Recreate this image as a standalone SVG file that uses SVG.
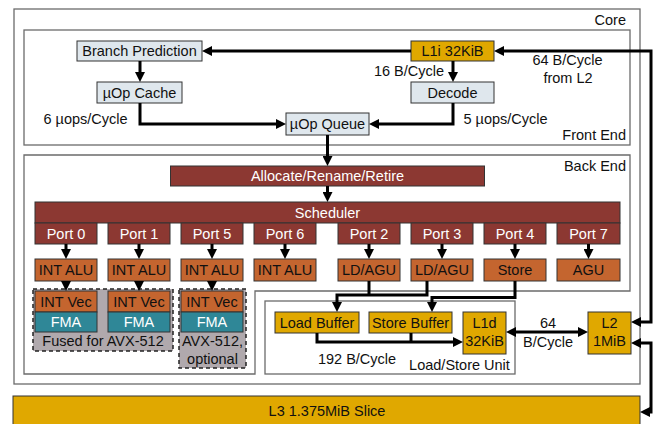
<svg xmlns="http://www.w3.org/2000/svg" width="655" height="424" viewBox="0 0 655 424">
<defs>
<marker id="ah" viewBox="0 0 10 10" refX="4" refY="5" markerWidth="10" markerHeight="10" markerUnits="userSpaceOnUse" orient="auto-start-reverse">
<path d="M0,0 L10,5 L0,10 z" fill="#000"/>
</marker>
<style>
text{font-family:"Liberation Sans",Arial,sans-serif;font-size:14.5px;fill:#111}
.c{text-anchor:middle}
.r{text-anchor:end}
.w{fill:#fff}
.region{fill:#fff;stroke:#6b6b6b;stroke-width:1.3}
.fe{fill:#dfe7ed;stroke:#333;stroke-width:1}
.gold{fill:#e0a800;stroke:#333;stroke-width:1}
.red{fill:#8c3832;stroke:#333;stroke-width:1}
.unit{fill:#c4652f;stroke:#333;stroke-width:1}
.fma{fill:#2f8797;stroke:#333;stroke-width:1}
.grp{fill:#b0a9ad;stroke:#222;stroke-width:1.5;stroke-dasharray:4 3}
.cn path{fill:none;stroke:#000;stroke-width:3}
.a{marker-end:url(#ah)}
.aa{marker-start:url(#ah);marker-end:url(#ah)}
</style>
</defs>

<g id="core"><rect class="region" x="14" y="9" width="626" height="375"/><text class="r" x="626" y="25">Core</text></g>
<g id="frontend"><rect class="region" x="24" y="30" width="606" height="115"/><text class="r" x="626" y="140">Front End</text></g>
<g id="backend"><path class="region" d="M24,155 H630 V291 H255 V374 H24 Z"/><text class="r" x="626" y="171">Back End</text></g>
<g id="lsu"><rect class="region" x="265" y="301" width="250" height="73"/><text class="c" x="459.5" y="370">Load/Store Unit</text></g>
<g id="l3"><rect class="gold" x="13" y="396" width="627" height="40"/><text class="c" x="327" y="416">L3 1.375MiB Slice</text></g>

<g id="branch"><rect class="fe" x="77" y="41" width="125" height="20"/><text class="c" x="139.5" y="56">Branch Prediction</text></g>
<g id="uopcache"><rect class="fe" x="97" y="82" width="85" height="21"/><text class="c" x="139.5" y="97.5">µOp Cache</text></g>
<g id="uopqueue"><rect class="fe" x="286" y="113" width="83" height="22"/><text class="c" x="327.5" y="129">µOp Queue</text></g>
<g id="l1i"><rect class="gold" x="411" y="41" width="83" height="20"/><text class="c" x="452.5" y="56">L1i 32KiB</text></g>
<g id="decode"><rect class="fe" x="411" y="82" width="83" height="21"/><text class="c" x="452.5" y="97.5">Decode</text></g>

<g id="allocate"><rect class="red" x="170.5" y="166" width="314" height="20"/><text class="c w" x="327.5" y="181">Allocate/Rename/Retire</text></g>
<g id="scheduler"><rect class="red" x="35" y="202" width="585" height="21"/><text class="c w" x="327.5" y="217.5">Scheduler</text></g>

<g id="port0"><rect class="red" x="35" y="223" width="62" height="21"/><text class="c w" x="66" y="238.5">Port 0</text></g>
<g id="port1"><rect class="red" x="108" y="223" width="62" height="21"/><text class="c w" x="139" y="238.5">Port 1</text></g>
<g id="port5"><rect class="red" x="181" y="223" width="62" height="21"/><text class="c w" x="212" y="238.5">Port 5</text></g>
<g id="port6"><rect class="red" x="254" y="223" width="62" height="21"/><text class="c w" x="285" y="238.5">Port 6</text></g>
<g id="port2"><rect class="red" x="338" y="223" width="62" height="21"/><text class="c w" x="369" y="238.5">Port 2</text></g>
<g id="port3"><rect class="red" x="411" y="223" width="62" height="21"/><text class="c w" x="442" y="238.5">Port 3</text></g>
<g id="port4"><rect class="red" x="484" y="223" width="62" height="21"/><text class="c w" x="515" y="238.5">Port 4</text></g>
<g id="port7"><rect class="red" x="557" y="223" width="63" height="21"/><text class="c w" x="588.5" y="238.5">Port 7</text></g>

<g id="alu0"><rect class="unit" x="35" y="259" width="62" height="22"/><text class="c" x="66" y="275">INT ALU</text></g>
<g id="alu1"><rect class="unit" x="108" y="259" width="62" height="22"/><text class="c" x="139" y="275">INT ALU</text></g>
<g id="alu5"><rect class="unit" x="181" y="259" width="62" height="22"/><text class="c" x="212" y="275">INT ALU</text></g>
<g id="alu6"><rect class="unit" x="254" y="259" width="62" height="22"/><text class="c" x="285" y="275">INT ALU</text></g>
<g id="ldagu2"><rect class="unit" x="338" y="259" width="62" height="22"/><text class="c" x="369" y="275">LD/AGU</text></g>
<g id="ldagu3"><rect class="unit" x="411" y="259" width="62" height="22"/><text class="c" x="442" y="275">LD/AGU</text></g>
<g id="store"><rect class="unit" x="484" y="259" width="62" height="22"/><text class="c" x="515" y="275">Store</text></g>
<g id="agu7"><rect class="unit" x="557" y="259" width="63" height="22"/><text class="c" x="588.5" y="275">AGU</text></g>

<g id="fused"><rect class="grp" x="33" y="289" width="140" height="62"/><text class="c" x="103" y="346">Fused for AVX-512</text></g>
<g id="avx512"><rect class="grp" x="179" y="289" width="67" height="79"/><text class="c" x="212.5" y="346">AVX-512,</text><text class="c" x="212.5" y="364">optional</text></g>
<g id="vec0"><rect class="unit" x="35" y="291" width="62" height="21"/><text class="c" x="66" y="306.5">INT Vec</text><rect class="fma" x="35" y="312" width="62" height="20"/><text class="c w" x="66" y="327">FMA</text></g>
<g id="vec1"><rect class="unit" x="108" y="291" width="62" height="21"/><text class="c" x="139" y="306.5">INT Vec</text><rect class="fma" x="108" y="312" width="62" height="20"/><text class="c w" x="139" y="327">FMA</text></g>
<g id="vec5"><rect class="unit" x="181" y="291" width="62" height="21"/><text class="c" x="212" y="306.5">INT Vec</text><rect class="fma" x="181" y="312" width="62" height="20"/><text class="c w" x="212" y="327">FMA</text></g>

<g id="loadbuf"><rect class="gold" x="275" y="312" width="84" height="21"/><text class="c" x="317" y="327.5">Load Buffer</text></g>
<g id="storebuf"><rect class="gold" x="369" y="312" width="83" height="21"/><text class="c" x="410.5" y="327.5">Store Buffer</text></g>
<g id="l1d"><rect class="gold" x="463" y="312" width="43" height="42"/><text class="c" x="484.5" y="328">L1d</text><text class="c" x="484.5" y="346">32KiB</text></g>
<g id="l2"><rect class="gold" x="588" y="312" width="43" height="42"/><text class="c" x="609.5" y="328">L2</text><text class="c" x="609.5" y="346">1MiB</text></g>

<g id="connectors" class="cn">
<path class="a" d="M411,51 H208"/>
<path class="aa" d="M500,51 H651 V322 H637"/>
<path class="aa" d="M637,343 H651 V412 H646"/>
<path class="a" d="M140,61 V76"/>
<path class="a" d="M140,103 V124 H280"/>
<path class="a" d="M453,61 V76"/>
<path class="a" d="M453,103 V124 H375"/>
<path class="a" d="M327.5,135 V160"/>
<path class="a" d="M327.5,186 V196"/>
<path class="a" d="M66,244 V253"/>
<path class="a" d="M139,244 V253"/>
<path class="a" d="M212,244 V253"/>
<path class="a" d="M285,244 V253"/>
<path class="a" d="M369,244 V253"/>
<path class="a" d="M442,244 V253"/>
<path class="a" d="M515,244 V253"/>
<path class="a" d="M588.5,244 V253"/>
<path class="a" d="M66,281 V285"/>
<path class="a" d="M139,281 V285"/>
<path class="a" d="M212,281 V285"/>
<path class="a" d="M427,281 V295 H337 V306"/>
<path d="M369,281 V295"/>
<path class="a" d="M515,281 V297.5 H432 V306"/>
<path class="a" d="M317,333 V342 H457"/>
<path d="M411,333 V342"/>
<path class="aa" d="M512,332 H582"/>
</g>

<g id="labels">
<text class="c" x="409" y="76">16 B/Cycle</text>
<text class="c" x="85.5" y="124">6 µops/Cycle</text>
<text class="c" x="505.5" y="124">5 µops/Cycle</text>
<text class="c" x="567.5" y="65">64 B/Cycle</text>
<text class="c" x="568" y="83">from L2</text>
<text class="c" x="357" y="364">192 B/Cycle</text>
<text class="c" x="548" y="328">64</text>
<text class="c" x="548" y="347">B/Cycle</text>
</g>
</svg>
